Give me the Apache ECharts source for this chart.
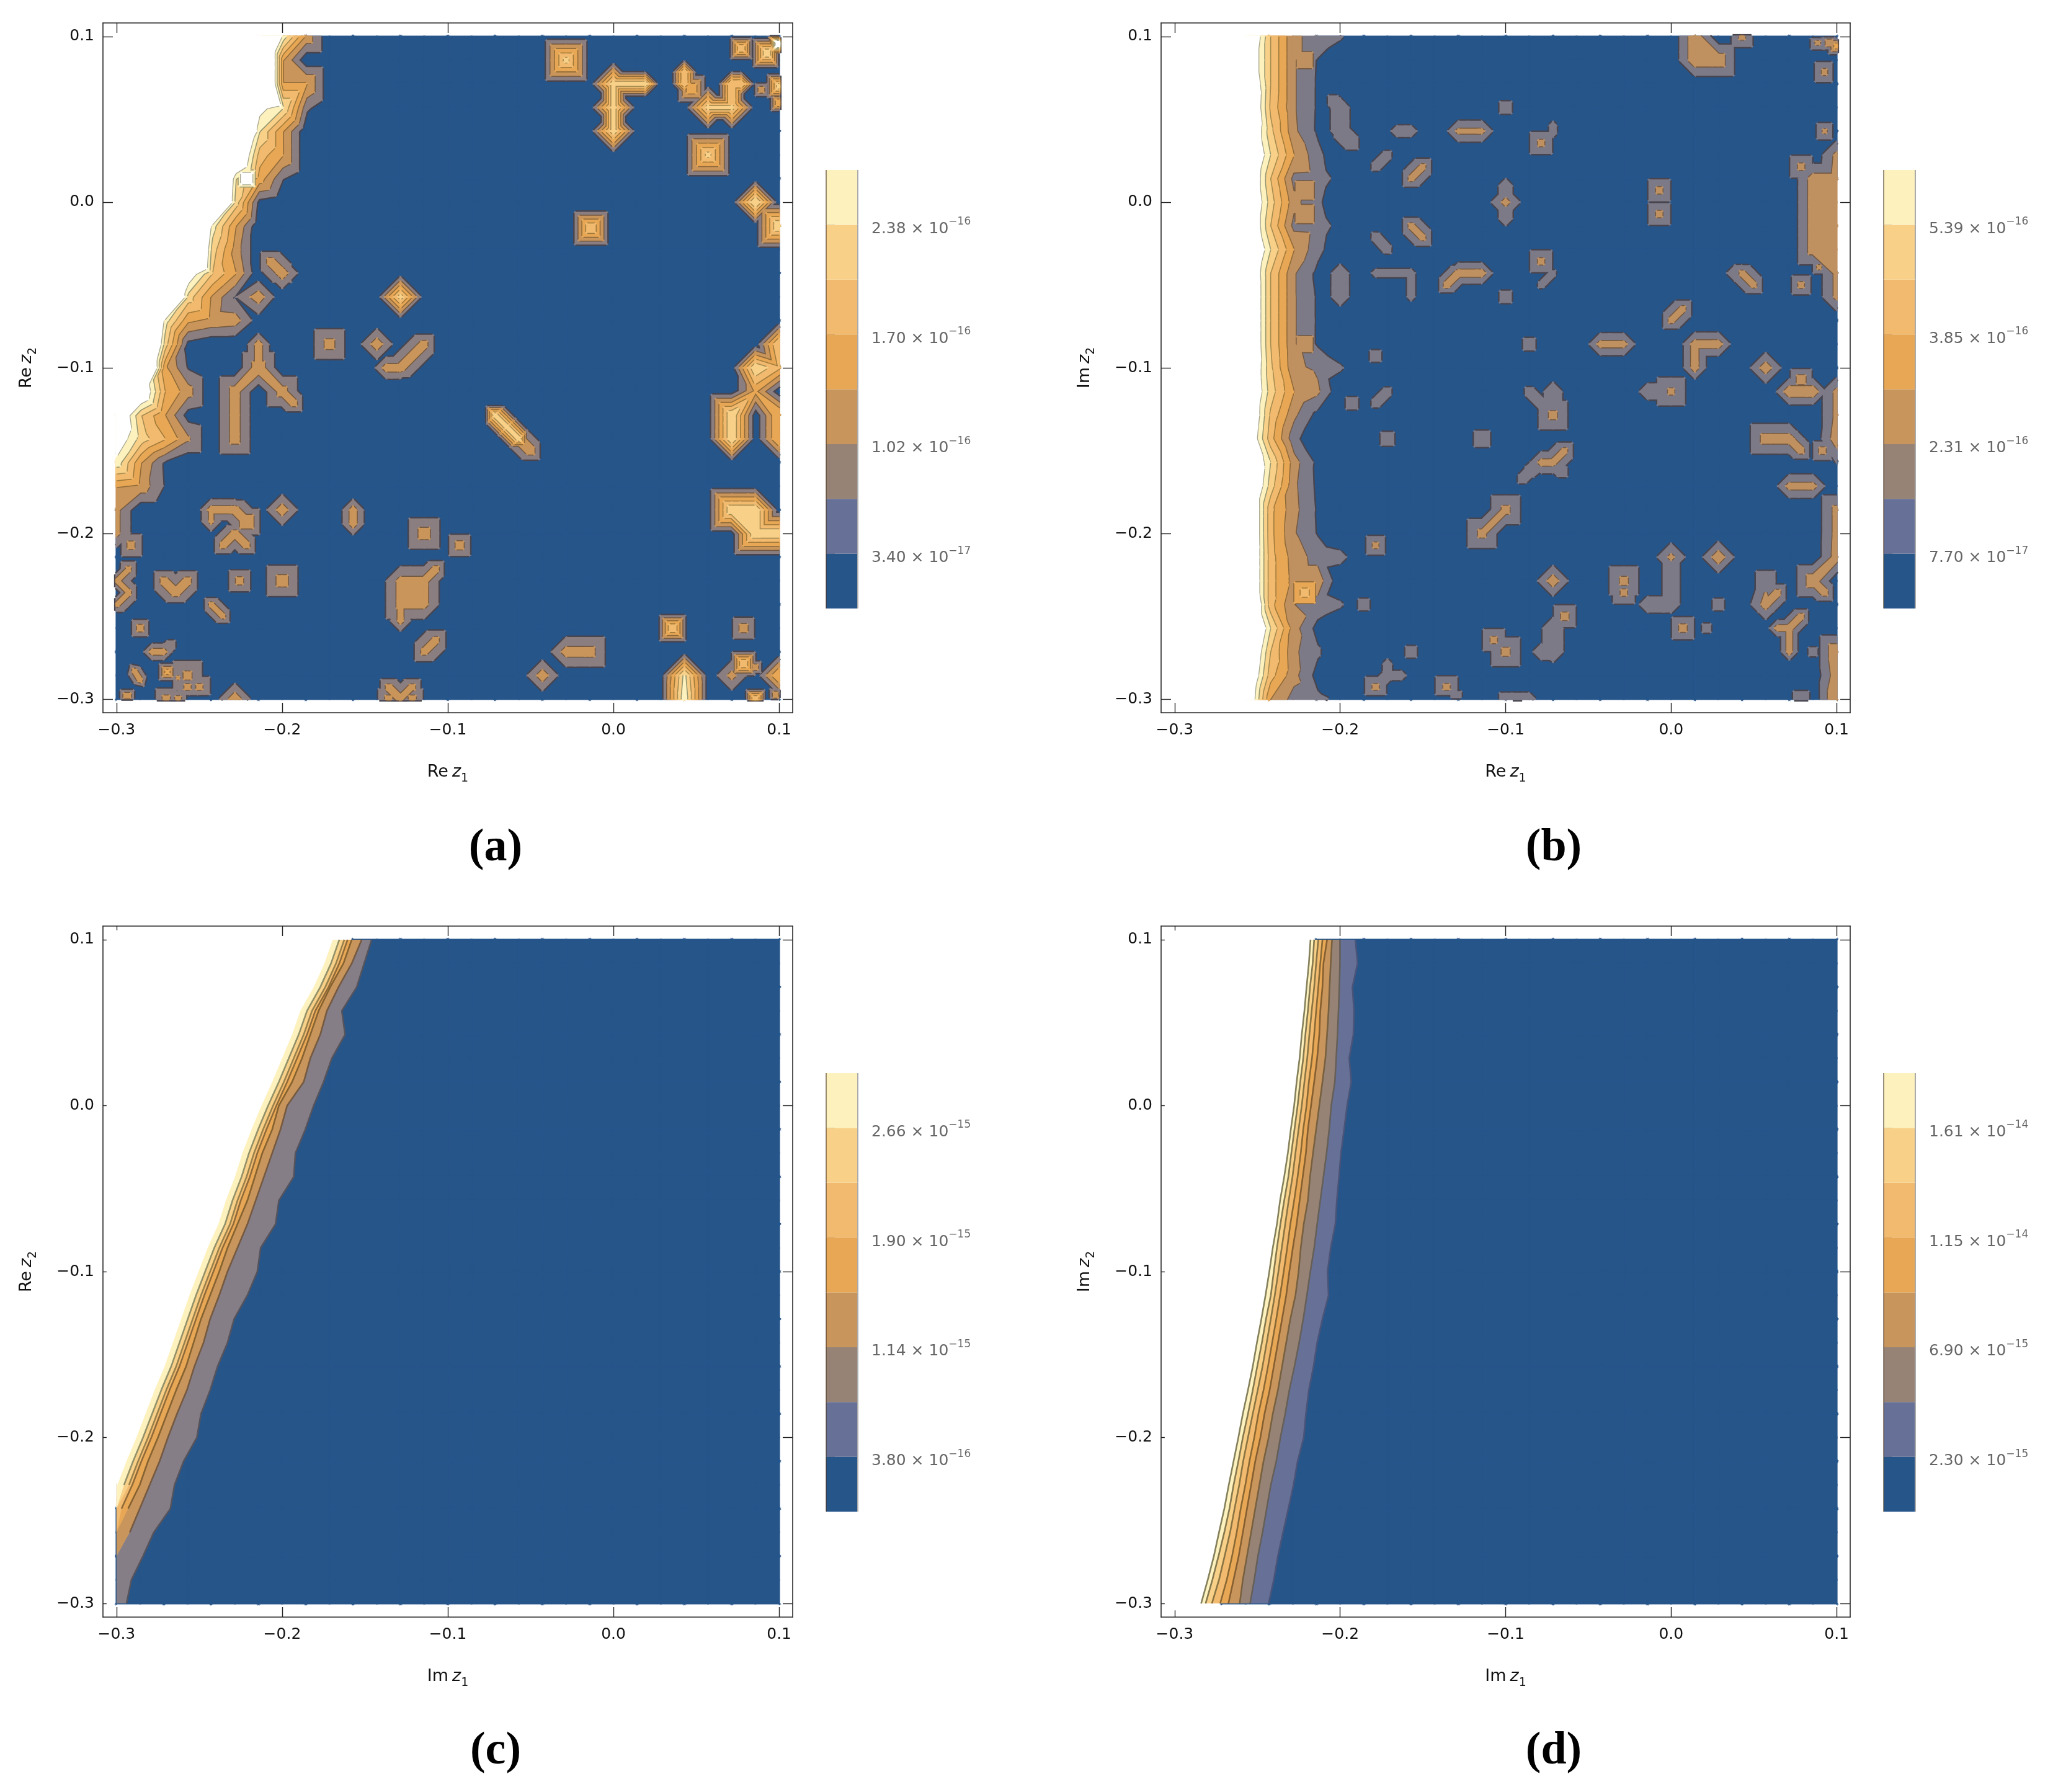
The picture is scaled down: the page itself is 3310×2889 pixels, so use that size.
<!DOCTYPE html>
<html><head><meta charset="utf-8">
<script src="https://cdn.jsdelivr.net/npm/echarts@6/dist/echarts.min.js"></script>
<style>html,body{margin:0;padding:0;background:#fff}#c{width:3310px;height:2889px}</style>
</head><body><div id="c"></div>
<script>
// ---------- axis ticks ----------
const majorTicks=[-0.3,-0.2,-0.1,0,0.1];
const minorTicks=[-0.28,-0.26,-0.24,-0.22,-0.18,-0.16,-0.14,-0.12,-0.08,-0.06,-0.04,-0.02,0.02,0.04,0.06,0.08];
// ---------- colour bands ----------
const legendColors=['#26558a','#677197','#978376','#c8955c','#e8a755','#f1ba6f','#f8d088','#fdf1be'];
const plotColorsA=['#26558a','#8a7e80','#c9955a','#e8a755','#f1ba6f','#f8d088','#fdf1be'];
const plotColorsB=['#26558a','#7d7a88','#c09160','#e8a755','#f1ba6f','#f8d088','#fdf1be'];
const plotColorsC=['#26558a','#857e87','#c8955c','#e8a755','#f1ba6f','#f8d088','#fdf1be'];
const plotColorsD=legendColors;
const lineColors=['#48454f','#75593f','#8f6a38','#a07a3a','#a58b50','#96966f','#a8a890','#a8a890'];
const lineColorsC=['#55535c','#75593f','#85622f','#8f6a38','#98804a','#929068','#a8a890'];
const lineColorsD=['#4a5478','#665f58','#77603f','#855f30','#8a6834','#8a7442','#85784e','#84805c'];
// ---------- legend labels ----------
const legendLevels=[1,3,5,7];
const mantA=['3.40','1.02','1.70','2.38'],expA=['−17','−16','−16','−16'];
const mantB=['7.70','2.31','3.85','5.39'],expB=['−17','−16','−16','−16'];
const mantC=['3.80','1.14','1.90','2.66'],expC=['−16','−15','−15','−15'];
const mantD=['2.30','6.90','1.15','1.61'],expD=['−15','−15','−14','−14'];
// ---------- panel (a): values on the 29x29 sample mesh, in contour steps ----------
// edge rows: [row, first column, values...]; columns left of it are above the top level
const edgeA=[[0,7,6.5,2.6],[1,7,3],[2,7,3,3],[3,6,7.5,6,1.2],[4,6,6,3],[5,5,10,4.5,3],[6,5,6,3.5,1],[7,5,5.5,.5],[8,4,6.5,3],[9,4,5.5,2.5],[10,3,8,5,3],[11,3,5.5,2.8,.8],[12,2,6.5,3.1,2.6,2.4,.3],[13,2,5.5,.5],[14,2,3.2,.8],[15,1,8.8,4,2.4],[16,0,9,5,3,.4],[17,0,8,5.5,4,2.1],[18,0,6.5,3,.8],[19,0,3,2.6,.9],[20,0,2.2],[21,0,2.2]];
const peaksA=[[6,11,2.5],[7,10,2.5],[12,11,5.3],[9,13,2.4],[6,14,2.6],[5,15,2.4],[5,16,2.4],[5,17,2.4],[7,15,2.4],[19,1,5.3],[25,5,5.3],[28,8,6],[28,13,5],[27,14,5.8],[27,15,3],[28,14,4],[26,16,5.8],[26,17,5.8],[28,16,4],[28,17,4],[26,20,5.8],[27,20,5.8],[27,21,5.8],[28,21,5.8],[19,26,2.4],[20,26,2.4],[18,27,2.5],[26,27,2.3],[24,27,6],[24,28,6.5],[28,27,4],[7,20,2.5],[7,23,2.5],[12,23,2.3],[13,23,2.3],[12,24,2.3],[13,24,2.3],[13,21,2.5],[5,28,2.6],[3,27,2.3]];
// refined spots: [column, row, value, half size of outer contour in cells, local base]
const spotsA=[[23.5,25,5,.5],[26.5,25,2.5,.4],[26.5,26.5,5,.45],[27,26.65,2.6,.2],[27,28,5,.35],[27.9,27.85,3,.25],[14.5,21.5,2.5,.4],[5.5,20.5,3,.5],[0.6,21.5,2.4,.42],[5.2,23,2.4,.4],[11.5,28,2.4,.4],[12.5,28,2.4,.4],[3.5,27.5,2.3,.4],[3,27.5,2.3,.4],[2.1,28,2.4,.4],[2.6,28,2.4,.3],[2.15,26.85,3.4,.3],[2.6,27.1,2.3,.12],[0.45,27.9,3,.25],[1,25,2.5,.3],[5.5,6,9,.3,5],[26.4,.5,5,.4],[27.25,2.25,2.6,.22],[27.5,.7,6,.55],[28,.3,9,.4],[28,2.1,5.5,.45],[28,2.8,4,.3],[24.3,2.2,4,.5],[20.05,8.1,5,.65]];
// ridges: [column, row, column, row, value, half width of outer contour in cells]; equal ends give a diamond
const ridgesA=[[6.5,9.5,7,10,2.4,.5],[7,15,7.5,15.5,2.4,.42],[11.4,14,12,14,2.4,.42],[12,14,13,13,2.4,.5],[11,13,11,13,2.5,.6],[6,13,6,14,2.4,.4],[16,16,16.5,16.5,5.5,.47],[16.5,16.5,17,17,5.5,.47],[17,17,17.5,17.5,2.6,.47],[10,20,10,20.6,2.4,.4],[4,20,5,20,2.4,.4],[4,20,4,20.5,2.2,.35],[4.5,21.5,5,21,2.4,.42],[5,21,5.5,21.5,2.4,.42],[5,20,5.5,20.5,2.4,.5],[2,23,2.5,23.5,2.4,.5],[2.5,23.5,3,23,2.4,.5],[12,24,12,24.7,2.3,.38],[13,23,13.5,22.5,2.4,.4],[13,26,13.5,25.5,2.3,.5],[4,24,4.5,24.5,2.3,.32],[1.5,26,2,26,2.4,.3],[2,26,2.3,25.7,1.4,.2],[.75,26.8,1,27.2,2.4,.25],[0,23,.5,22.5,2.3,.38],[0,23,.5,23.5,2.3,.38],[0,24,.5,23.5,2.3,.38],[11.5,27.5,12,28,2.4,.42],[12,28,12.5,27.5,2.4,.42],[24,1.5,24,2,4.8,.42],[26,2,26,2.9,5,.45],[26,2,26.4,2,5,.45],
 [21,2,22.35,2,5.5,.45],[21,2,21,4,5.5,.45],[21,2,21,2,5.5,.8],[21,3,21,3,5.5,.8],[21,4,21,4,5.5,.8],[25,3,26,3,5.3,.45],[25,3,25,3,5.3,.8],[26,3,26,3,5.3,.8],[27,7,27,7,6,.8]];
// ---------- panel (b) ----------
const edgeB=[[0,3,9.6,5,2.1,1.8,1.1],[1,3,9,5,2.1,.9],[2,3,9.6,5,2.1,.85],[3,3,10,4.8,2.1,.85],[4,3,9.6,5.3,2.2,.8],[5,3,9.8,6,3,1.3],[6,3,9.6,5,1.6,1.5,.6],[7,3,9.6,5.5,2.3,1.2],[8,3,9.6,5,1.6,1.5,.6],[9,3,10,6,3,1.3,.1],[10,3,9.6,5,2.1,.7],[11,3,9.8,5,2.1,.85],[12,3,9.8,5,2.1,.85],[13,3,9.8,5,2.1,.85],[14,3,9.6,5.2,2.2,1.8,1.1],[15,3,9.6,5.5,3,2.2],[16,3,9.5,4.8,2.2,.6],[17,3,9,4.4,1.3],[18,3,9.6,6,2.4,.7],[19,3,10,5.5,2.2,.75],[20,3,10,4.3,2.3,.85],[21,3,10,4.3,2.1,.9],[22,3,10,4.4,2.5,1.6,1.3],[23,3,10,4.4,2.6,2.6],[24,3,11,4.4,2,1.6,1.1],[25,3,11,6,2.4,.6],[26,3,10,5,2.2,1.15],[27,3,9.5,4.4,2.3,.6],[28,3,9,3,1.6,1.2,.8]];
const peaksB=[[14,7,2.3],[22,0,2.6],[22,1,2.6],[23,1,2.6],[25,14,2.5],[27,6,2.4],[28,6,2.4],[27,7,2.4],[28,7,2.4],[27,8,2.4],[28,8,2.4],[27,9,2.4],[28,9,2.4],[28,5,2.2],[28,10,2.2],[28,11,2.2],[16,16,2.3],[21,15,2.2],[25,17,2.4],[26,17,2.4],[28,15,2.2],[28,16,2.2],[28,17,2.5],[28,18,1],[28,20,2.3],[28,21,2.3],[28,22,2.4],[21,22,2.2],[23,22,2.6],[16,23,2.5],[19,23,2.3],[25,24,2.4],[25,23,1.6],[27,23,2.6],[28,26,2.8],[28,27,2.5],[28,28,3],[13,21,2.3],[14,20,2.3],[14,26,2.3],[14,28,1.3],[15,28,1.3]];
const spotsB=[[5.5,1,3,.3,1.5],[5.5,13,3,.3,1.5],[5.5,6.5,2.6,.35,1.5],[5.5,7.5,2.6,.35,1.5],[5.5,23.5,4.5,.4,2.4],[14,11,1.6,.22],[14,3,1.6,.22],[8.5,13.5,1.6,.2],[24,0,2.3,.4],[27.2,.25,2.3,.25],[27.7,.25,3,.25],[28,.4,3.5,.3],[27.5,1.5,2.3,.38],[15.5,4.5,2.3,.42],[20.5,6.5,2.3,.42],[20.5,7.5,2.3,.42],[27.5,4,2.2,.3],[26.5,5.5,2.3,.42],[27.26,9.75,2.3,.22],[26.5,10.5,2.3,.35],[15.5,9.5,2.3,.42],[15,13,1.4,.22],[26.5,14.5,2.6,.4],[27.4,17.5,2.4,.35],[19,23.5,2.3,.42],[16.5,24.5,2.4,.42],[21.5,25,2.4,.42],[22.5,25,1.4,.15],[23,24,1.3,.2],[27,26,1.5,.15],[26.5,28,1.3,.3],[7.5,15.5,1.6,.22],[9,17,1.7,.25],[13,17,1.7,.3],[8.5,21.5,2.3,.35],[8,24,1.6,.2],[10,26,1.6,.2],[8.5,27.5,2.3,.4],[11.5,27.5,2.3,.42],[11.9,27.9,1.2,.2],[13.5,25.5,2.3,.42],[14.5,28,1.3,.2]];
const ridgesB=[[9.4,4,10,4,1.5,.2],[9,5,8.5,5.5,1.5,.18],[10,6,10.5,5.5,2.3,.42],[10,8,10.5,8.5,2.3,.42],[8.5,8.45,9,9,1.5,.18],[8.5,10,10,10,1.4,.13],[10,10,10,11,1.4,.13],[14,6.3,14,7.7,1.3,.25],[16,3.75,16,4.1,1.3,.12],[16,10,15.5,10.5,1.3,.12],[21,12,21.5,11.5,2.3,.42],[24,10,24.5,10.5,2.3,.42],[23.7,10,24,10,1.5,.3],[15,18.4,15.5,18,1.5,.25],[14.7,18.7,15,18.4,1.3,.2],[15.5,18,16,18,2.3,.42],[16,18,16.5,17.5,2.3,.42],[16,18,16.4,18.4,1.4,.25],[26,17,26.5,17.5,2.4,.42],[9,15,8.5,15.5,1.5,.18],[9,27,9.6,27,1.4,.15],[9,26.5,9,27,1.3,.15],[8.5,27.5,9,27,1.4,.2],[15.5,26,16,26,1.4,.3],[25,24,25.5,23.5,2.4,.42],[25.5,25,26,25,2.4,.3],[26,25,26.5,24.5,2.4,.35],[26,25,26,26,2.4,.3],[27,23,27.5,23.5,2.4,.42],[18,13,19,13,2.3,.42],[22,13,23,13,2.4,.45],[22,13,22,14,2.4,.42],[12,4,13,4,2.2,.4],[12,10,13,10,2.4,.4],[11.5,10.5,12,10,2.4,.38],[7,3,7,4,1.6,.35],[7,10,7,11,1.5,.33],[7,4,7.5,4.5,1.6,.33],[6.7,2.7,7,3,1.4,.25],[21,22,21,24,1.5,.32],[20,24,21,24,1.4,.3],[16,15,16,16,1.5,.35],[15,15,16,16,1.5,.2],[21,15,20,15,1.5,.3],[16,25,16,26,1.5,.4],[26,19,27,19,2.3,.45],[26,15,27,15,2.6,.5]];
// ---------- panel (c): x of each contour on the 29 rows from y=0.1 to y=-0.3 ----------
const contC1=[-.146,-.1505,-.155,-.164,-.162,-.170,-.175,-.181,-.186,-.192,-.193,-.202,-.204,-.213,-.215,-.221,-.229,-.233,-.239,-.2435,-.249,-.2515,-.2595,-.265,-.2675,-.2775,-.284,-.291,-.294];
const contC2=[-.152,-.158,-.166,-.173,-.177,-.183,-.187,-.197,-.201,-.206,-.211,-.216,-.221,-.227,-.233,-.238,-.2435,-.2475,-.253,-.2575,-.2635,-.269,-.274,-.280,-.286,-.292,-.3,-.3,-.3];
const contC3=[-.158,-.163,-.171,-.178,-.183,-.188,-.194,-.202,-.206,-.212,-.2165,-.221,-.227,-.233,-.238,-.2435,-.249,-.2535,-.258,-.264,-.2695,-.275,-.281,-.286,-.293,-.3,-.3,-.3,-.3];
const contC4=[-.1605,-.1655,-.172,-.18,-.185,-.191,-.197,-.2035,-.2095,-.215,-.2195,-.225,-.2295,-.236,-.2415,-.247,-.252,-.257,-.262,-.268,-.2735,-.279,-.285,-.2905,-.297,-.3,-.3,-.3,-.3];
const contC5=[-.1625,-.1675,-.174,-.182,-.187,-.193,-.199,-.2055,-.2115,-.217,-.2215,-.227,-.2315,-.238,-.2435,-.249,-.254,-.259,-.264,-.27,-.2755,-.281,-.287,-.2925,-.3,-.3,-.3,-.3,-.3];
const contC6=[-.1655,-.1705,-.177,-.185,-.19,-.196,-.202,-.2085,-.2145,-.22,-.2245,-.23,-.2345,-.241,-.2465,-.252,-.257,-.262,-.267,-.273,-.2785,-.284,-.29,-.2955,-.3,-.3,-.3,-.3,-.3];
const contC7=[-.1695,-.1745,-.181,-.189,-.194,-.2,-.206,-.2125,-.2185,-.224,-.2285,-.234,-.2385,-.245,-.2505,-.256,-.261,-.266,-.271,-.277,-.2825,-.288,-.294,-.2995,-.3,-.3,-.3,-.3,-.3];
// ---------- panel (d) ----------
const contD1=[-.1908,-.1895,-.1926,-.1916,-.192,-.1945,-.1933,-.1958,-.1976,-.1995,-.2007,-.202,-.2029,-.2057,-.2076,-.207,-.2107,-.2139,-.2161,-.2189,-.2207,-.222,-.2257,-.2282,-.2313,-.2345,-.2376,-.2401,-.2432];
const contD2=[-.2001,-.2001,-.2005,-.201,-.2016,-.2024,-.2032,-.2054,-.2066,-.2082,-.2101,-.212,-.2139,-.2157,-.218,-.2201,-.2223,-.2248,-.2276,-.2307,-.2332,-.2361,-.2386,-.2419,-.2444,-.2469,-.2497,-.2519,-.2544];
const contD3=[-.2049,-.2057,-.2064,-.207,-.2079,-.2089,-.2107,-.2126,-.2145,-.2164,-.2182,-.2195,-.222,-.2238,-.2251,-.227,-.2301,-.2326,-.2351,-.2376,-.2407,-.2432,-.2463,-.2488,-.2513,-.2538,-.2563,-.2588,-.2607];
const contD4=[-.2079,-.2101,-.2107,-.212,-.2126,-.2139,-.2157,-.2176,-.2195,-.2207,-.2226,-.2245,-.2263,-.2286,-.2307,-.2326,-.2351,-.2376,-.2401,-.2426,-.2457,-.2482,-.2513,-.2538,-.2563,-.2588,-.2613,-.2644,-.2675];
const contD5=[-.2107,-.212,-.2132,-.2145,-.2157,-.217,-.2189,-.2203,-.2223,-.2238,-.2257,-.2278,-.2301,-.232,-.2341,-.2363,-.2386,-.2411,-.2436,-.2463,-.2494,-.2519,-.2548,-.2573,-.2601,-.2625,-.2653,-.2685,-.2725];
const contD6=[-.2132,-.2145,-.2157,-.2172,-.2186,-.2199,-.2216,-.2232,-.2251,-.227,-.2288,-.2311,-.2332,-.2353,-.2373,-.2395,-.2419,-.2444,-.2469,-.2498,-.2528,-.2557,-.2586,-.261,-.2638,-.2665,-.2698,-.2732,-.2775];
const contD7=[-.2157,-.2166,-.2182,-.2195,-.221,-.2223,-.2241,-.2257,-.2276,-.2295,-.2313,-.2338,-.2361,-.2382,-.2401,-.2419,-.2448,-.2473,-.2501,-.2528,-.2557,-.2588,-.2615,-.2644,-.2669,-.27,-.2735,-.2772,-.2813];
const contD8=[-.2179,-.2189,-.2203,-.2216,-.2232,-.2245,-.2263,-.2278,-.2298,-.2316,-.2338,-.2363,-.2382,-.2407,-.2428,-.2451,-.2476,-.2503,-.2528,-.2557,-.2588,-.2615,-.2644,-.2673,-.27,-.2732,-.2763,-.28,-.284];

// ---------- helpers: band polygons in data coordinates ----------
const N=28, xOf=i=>-0.3+0.4*Math.min(N,Math.max(0,i))/N, yOf=j=>0.1-0.4*Math.min(N,Math.max(0,j))/N;
const HIGH=14;
function buildMatrix(edge,peaks){
  const m=[];for(let j=0;j<=N;j++){m.push(new Array(N+1).fill(0));}
  edge.forEach(r=>{const j=r[0],s=r[1];for(let i=0;i<s;i++)m[j][i]=HIGH;for(let k=2;k<r.length;k++)m[j][s+k-2]=r[k];});
  peaks.forEach(p=>{m[p[1]][p[0]]=Math.max(m[p[1]][p[0]],p[2]);});
  return m;
}
function triangles(m,spots,ridges){
  const T=[];const v=(i,j)=>[xOf(i),yOf(j),m[j][i]];
  for(let j=0;j<N;j++)for(let i=0;i<N;i++){
    const a=v(i,j),b=v(i+1,j),c=v(i+1,j+1),d=v(i,j+1);
    if((i+j)%2===0){T.push({p:[a,b,c],b:-1},{p:[a,c,d],b:-1});}else{T.push({p:[a,b,d],b:-1},{p:[b,c,d],b:-1});}
  }
  spots.forEach(s=>{const [i,j,p,r]=s,base=s[4]||0,L=Math.floor(base)+1;
    const R=r/(1-(L-base)/(p-base));
    const q=[[i-R,j-R],[i+R,j-R],[i+R,j+R],[i-R,j+R]].map(o=>[xOf(o[0]),yOf(o[1]),base]);
    const c=[xOf(i),yOf(j),p];
    for(let n=0;n<4;n++)T.push({p:[c,q[n],q[(n+1)%4]],b:base});
  });
  ridges.forEach(s=>{const [i1,j1,i2,j2,p,r]=s,R=r/(1-1/p);
    let dx=i2-i1,dy=j2-j1;const len=Math.hypot(dx,dy);
    if(len>0){dx/=len;dy/=len;}else{dx=1;dy=0;}
    const nx=-dy,ny=dx,P=(i,j,z)=>[xOf(i),yOf(j),z];
    const A=P(i1,j1,p),B=P(i2,j2,p),A1=P(i1+nx*R,j1+ny*R,0),A2=P(i1-nx*R,j1-ny*R,0),B1=P(i2+nx*R,j2+ny*R,0),B2=P(i2-nx*R,j2-ny*R,0),
      Ac=P(i1-dx*R,j1-dy*R,0),Bc=P(i2+dx*R,j2+dy*R,0);
    if(len>0){T.push({p:[A,B,A1],b:0},{p:[B,B1,A1],b:0},{p:[A,B,A2],b:0},{p:[B,B2,A2],b:0});}
    T.push({p:[A,A1,Ac],b:0},{p:[A,A2,Ac],b:0},{p:[B,B1,Bc],b:0},{p:[B,B2,Bc],b:0});
  });
  return T;
}
function clip(t,l){const o=[];for(let n=0;n<3;n++){const a=t[n],b=t[(n+1)%3];
  if(a[2]>=l)o.push([a[0],a[1]]);
  if((a[2]-l)*(b[2]-l)<0){const u=(l-a[2])/(b[2]-a[2]);o.push([a[0]+u*(b[0]-a[0]),a[1]+u*(b[1]-a[1])]);}}
  return o.length>=3?o:null;}
function seg(t,l){const o=[];for(let n=0;n<3;n++){const a=t[n],b=t[(n+1)%3];
  if((a[2]-l)*(b[2]-l)<0){const u=(l-a[2])/(b[2]-a[2]);o.push([a[0]+u*(b[0]-a[0]),a[1]+u*(b[1]-a[1])]);}}
  return o.length===2?o:null;}
function meshLayers(m,spots,ridges,colors){
  const T=triangles(m,spots,ridges),L=[],top=colors.length;
  for(let k=0;k<=top;k++){
    const l=k===0?-1:k+1e-4;
    if(k>0){const lines=[];T.forEach(t=>{if(t.b>=k)return;const s=seg(t.p,l);if(s)lines.push(s);});
      L.push({kind:'line',polys:lines,color:lineColors[k-1],lw:k===1?8:6.2});}
    const polys=[];T.forEach(t=>{if(t.b>=k&&t.b>=0)return;
      if(k<top&&t.b<0&&t.p.every(q=>q[2]>k+1+1e-3))return;
      const c=clip(t.p,l);if(c)polys.push(c);});
    L.push({kind:'fill',polys,color:k<top?colors[k]:'#ffffff',lw:k<top?3:3.5});
  }
  return L;
}
function contourLayers(conts,colors,lcolors,topLine){
  const L=[],ys=[];for(let j=0;j<=N;j++)ys.push(yOf(j));
  const topC=conts[conts.length-1];
  L.push({kind:'fill',polys:[topC.map((x,j)=>[x,ys[j]]).concat([[0.1,-0.3],[0.1,0.1]])],color:colors[0],lw:0});
  const polys=[];
  for(let j=0;j<N;j++)for(let i=0;i<N;i++){
    const x0=xOf(i);if(x0<topC[j]||x0<topC[j+1])continue;
    const a=[x0,ys[j]],b=[xOf(i+1),ys[j]],c=[xOf(i+1),ys[j+1]],d=[x0,ys[j+1]];
    if((i+j)%2===0)polys.push([a,b,c],[a,c,d]);else polys.push([a,b,d],[b,c,d]);
  }
  L.push({kind:'fill',polys,color:colors[0],lw:3});
  conts.forEach((cx,k)=>{
    const pts=cx.map((x,j)=>[x,ys[j]]);
    L.push({kind:'fill',polys:[pts.concat([[-0.3,-0.3],[-0.3,0.1]])],color:colors[k+1]||'#ffffff',lw:0});
  });
  L.push({kind:'fill',polys:[topC.map((x,j)=>[x-0.001,ys[j]]).concat([[-0.306,-0.306],[-0.306,0.106]])],color:'#ffffff',lw:0});
  conts.forEach((cx,k)=>{
    const isTop=k===conts.length-1;
    if(isTop&&!topLine)return;
    const keep=[];cx.forEach((x,j)=>{if(x>-0.3)keep.push([x,ys[j]]);});
    L.push({kind:'path',polys:[keep],color:lcolors[k],lw:2.6});
  });
  return L;
}
const panels=[
 {layers:meshLayers(buildMatrix(edgeA,peaksA),spotsA,ridgesA,plotColorsA),xn:'Re',yn:'Re',fx:166,fy:37,fw:1112,fh:1112,mant:mantA,exp:expA},
 {layers:meshLayers(buildMatrix(edgeB,peaksB),spotsB,ridgesB,plotColorsB),xn:'Re',yn:'Im',fx:1872,fy:37,fw:1111,fh:1112,mant:mantB,exp:expB},
 {layers:contourLayers([contC1,contC2,contC3,contC4,contC5,contC6,contC7],plotColorsC,lineColorsC,false),xn:'Im',yn:'Re',fx:166,fy:1493,fw:1112,fh:1114,mant:mantC,exp:expC},
 {layers:contourLayers([contD1,contD2,contD3,contD4,contD5,contD6,contD7,contD8],plotColorsD,lineColorsD,true),xn:'Im',yn:'Im',fx:1872,fy:1493,fw:1111,fh:1114,mant:mantD,exp:expD}
];
const captions=[['(a)',794,1370],['(b)',2500,1370],['(c)',794,2826],['(d)',2500,2826]];

// ---------- option ----------
const AXMIN=-0.3082,AXMAX=0.1082,FONT='"DejaVu Sans"';
const fmt=v=>v===0?'0.0':(v<0?'−':'')+Math.abs(v).toFixed(1);
const frame={color:'#2a2a2a',width:1.6};
const nameRich={n:{fontSize:27,fontFamily:FONT,color:'#111',lineHeight:40},i:{fontSize:27,fontFamily:FONT,fontStyle:'italic',color:'#111',lineHeight:40,padding:[0,0,0,6]},s:{fontSize:19,fontFamily:FONT,color:'#111',verticalAlign:'bottom',lineHeight:30}};
const grids=[],xAxes=[],yAxes=[],series=[];
panels.forEach((P,pi)=>{
  const gMajor=grids.length,gMinor=gMajor+1,gLeg=gMajor+2;
  const rect={left:P.fx,top:P.fy,width:P.fw,height:P.fh};
  grids.push(rect,rect,{left:P.fx+P.fw+54,top:P.fy+237,width:51,height:707});
  const major=(pos,withLabel,extra)=>Object.assign({type:'value',min:AXMIN,max:AXMAX,position:pos,gridIndex:gMajor,
    axisLine:{show:true,onZero:false,lineStyle:frame},
    axisTick:{show:true,inside:true,length:16,customValues:majorTicks,lineStyle:{color:'#222',width:1.4}},
    axisLabel:withLabel?{show:true,customValues:majorTicks,formatter:fmt,fontSize:25,fontFamily:FONT,color:'#111',margin:pos==='bottom'?16:14,showMinLabel:true,showMaxLabel:true,hideOverlap:false}:{show:false},
    splitLine:{show:false}},extra||{});
  const minor=pos=>({type:'value',min:AXMIN,max:AXMAX,position:pos,gridIndex:gMinor,
    axisLine:{show:false},axisTick:{show:true,inside:true,length:10,customValues:minorTicks,lineStyle:{color:'#222',width:1.2}},
    axisLabel:{show:false},splitLine:{show:false}});
  const xi=xAxes.length,yi=yAxes.length;
  xAxes.push(major('bottom',true,{name:`{n|${P.xn}}{i|z}{s|1}`,nameLocation:'middle',nameGap:76,nameTextStyle:{rich:nameRich}}),major('top',false),minor('bottom'),minor('top'),
    {type:'value',min:0,max:1,gridIndex:gLeg,show:false});
  yAxes.push(major('left',true,{name:`{n|${P.yn}}{i|z}{s|2}`,nameLocation:'middle',nameGap:103,nameRotate:90,nameTextStyle:{rich:nameRich}}),major('right',false),minor('left'),minor('right'),
    {type:'value',min:0,max:8,gridIndex:gLeg,position:'right',
     axisLine:{show:false},axisTick:{show:true,length:14,customValues:legendLevels,lineStyle:{color:'#777',width:1.3}},
     axisLabel:{show:true,customValues:legendLevels,margin:22,padding:[8,0,0,0],showMinLabel:true,showMaxLabel:true,
       formatter:v=>{const n=legendLevels.indexOf(v);return `{m|${P.mant[n]} × 10}{e|${P.exp[n]}}`;},
       rich:{m:{fontSize:25,fontFamily:FONT,color:'#666',lineHeight:34,padding:[6,0,0,0]},e:{fontSize:17,fontFamily:FONT,color:'#666',verticalAlign:'top',lineHeight:20}}},
     splitLine:{show:false}});
  series.push({type:'custom',coordinateSystem:'cartesian2d',xAxisIndex:xi,yAxisIndex:yi,silent:true,animation:false,progressive:0,
    encode:{x:0,y:1},data:P.layers.map((_,n)=>[-0.1,-0.1,n]),
    renderItem:(params,api)=>{
      const L=P.layers[api.value(2)];
      const pts=q=>q.map(c=>api.coord(c));
      if(L.kind==='fill')return {type:'group',children:L.polys.map(q=>({type:'polygon',silent:true,shape:{points:pts(q)},
        style:{fill:L.color,stroke:L.lw?L.color:null,lineWidth:L.lw,lineJoin:'miter',miterLimit:4}}))};
      return {type:'group',children:L.polys.map(q=>({type:'polyline',silent:true,shape:{points:pts(q)},
        style:{fill:null,stroke:L.color,lineWidth:L.lw,lineJoin:'round'}}))};
    }});
  series.push({type:'custom',coordinateSystem:'cartesian2d',xAxisIndex:xi+4,yAxisIndex:yi+4,silent:true,animation:false,
    encode:{x:0,y:1},data:legendColors.map((c,k)=>[0.5,k+0.5,k]),
    renderItem:(params,api)=>{
      const k=api.value(2),a=api.coord([0,k]),b=api.coord([1,k+1]);
      return {type:'group',children:[
        {type:'rect',shape:{x:a[0],y:b[1],width:b[0]-a[0],height:a[1]-b[1]},style:{fill:legendColors[k]}},
        {type:'line',shape:{x1:a[0],y1:a[1],x2:a[0],y2:b[1]},style:{stroke:'rgba(70,50,30,0.55)',lineWidth:2}},
        {type:'line',shape:{x1:b[0],y1:a[1],x2:b[0],y2:b[1]},style:{stroke:'#aaaaaa',lineWidth:2}}
      ]};
    }});
});
const chart=echarts.init(document.getElementById('c'),null,{renderer:'canvas',width:3310,height:2889});
chart.setOption({animation:false,backgroundColor:'#ffffff',
  title:captions.map(c=>({text:c[0],left:c[1],top:c[2]-44,textAlign:'center',
    textStyle:{fontFamily:'"Liberation Serif"',fontWeight:'bold',fontSize:74,color:'#000'}})),
  grid:grids,xAxis:xAxes,yAxis:yAxes,series});
</script></body></html>
